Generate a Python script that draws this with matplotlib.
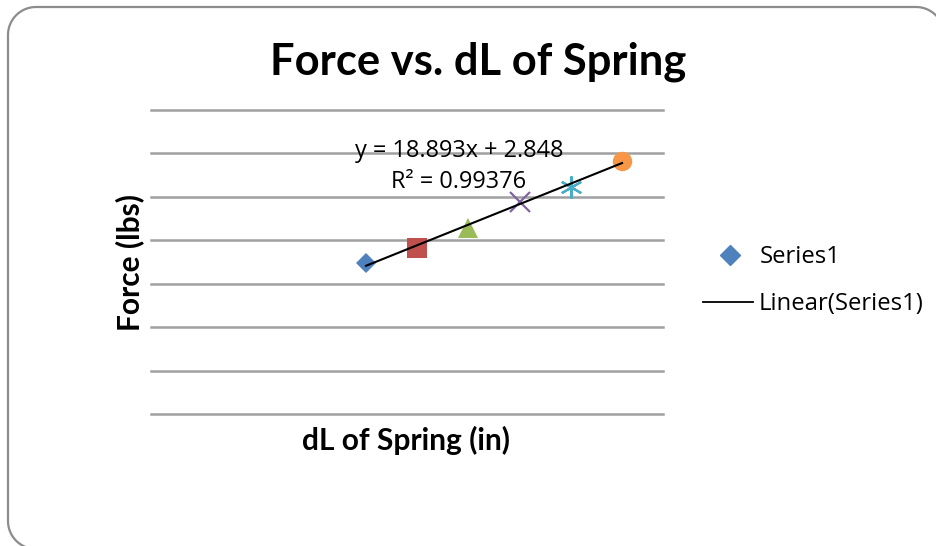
import numpy as np
import matplotlib
matplotlib.use("Agg")
import matplotlib.pyplot as plt
from matplotlib.lines import Line2D
from matplotlib.transforms import IdentityTransform

# Spring measurements
dl_in = [0.21, 0.26, 0.31, 0.36, 0.41, 0.46]
force_lbs = [6.93, 7.63, 8.55, 9.76, 10.45, 11.63]

# Linear trendline coefficients and fit quality
slope = 18.893
intercept = 2.848
r_squared = 0.99376

title = "Force vs. dL of Spring"
x_label = "dL of Spring (in)"
y_label = "Force (lbs)"
series_name = "Series1"
trend_name = f"Linear({series_name})"

# Per-point styling (vary colours by point)
point_colors = ["#4F81BD", "#C0504D", "#9BBB59", "#8064A2", "#4BACC6", "#F79646"]
point_markers = ["D", "s", "^", "x", (6, 2, 0), "o"]
point_sizes = [10, 14, 14, 14, 16, 14]

plt.rcParams["font.family"] = ["Lato", "DejaVu Sans"]
body_font = ["Open Sans", "DejaVu Sans"]

W, H = 937, 546
fig = plt.figure(figsize=(W / 100, H / 100), dpi=100)
fig.patch.set_facecolor("white")


def px(x, y):
    """Pixel position (top-left origin) to figure fraction."""
    return x / W, 1 - y / H


# Rounded chart-area outline (open path; right and bottom edges run off-canvas)
def arc(cx, cy, r, a0, a1, n=24):
    t = np.radians(np.linspace(a0, a1, n))
    return cx + r * np.cos(t), cy + r * np.sin(t)


r = 28
left, top, right, bottom = 8, 7, 944, 549
segs_x, segs_y = [], []
ax_, ay_ = arc(left + r, bottom - r, r, 90, 180)        # bottom-left corner
segs_x += list(ax_); segs_y += list(ay_)
ax_, ay_ = arc(left + r, top + r, r, 180, 270)          # top-left corner
segs_x += list(ax_); segs_y += list(ay_)
ax_, ay_ = arc(right - r, top + r, r, 270, 360)         # top-right corner
segs_x += list(ax_); segs_y += list(ay_)
segs_x += [right]; segs_y += [H + 20]
outline = Line2D(np.array(segs_x), H - np.array(segs_y), color="#8c8c8c",
                 linewidth=1.6, transform=IdentityTransform(), clip_on=False)
fig.add_artist(outline)

ax = fig.add_axes([151 / W, (H - 414) / H, 512 / W, 304.5 / H])
ax.set_xlim(0, 0.5)
ax.set_ylim(0, 14)
ax.set_yticks(np.arange(0, 15, 2))
ax.set_xticks([])
ax.yaxis.grid(True, color="#a0a0a0", linewidth=1.8)
for gl in ax.get_ygridlines():
    gl.set_clip_on(False)
ax.set_axisbelow(True)
ax.tick_params(axis="y", length=0, labelleft=False)
for s in ax.spines.values():
    s.set_visible(False)

for x, y, c, m, ms in zip(dl_in, force_lbs, point_colors, point_markers, point_sizes):
    lw = 1.6 if m in ("x", (6, 2, 0)) else 0
    ax.plot(x, y, linestyle="none", marker=m, markersize=ms, color=c,
            markeredgecolor=c, markeredgewidth=lw, zorder=3)

xs = np.array([min(dl_in), max(dl_in)])
ax.plot(xs, slope * xs + intercept, color="black", linewidth=1.5, zorder=4)

ax.text(0.3008, 11.38, f"y = {slope}x + {intercept}\nR² = {r_squared}",
        ha="center", va="center", fontsize=16.9, linespacing=1.35,
        family=body_font)

fig.text(*px(478.5, 62), title, ha="center", va="center",
         fontsize=31.3, fontweight="bold")
fig.text(*px(406, 440), x_label, ha="center", va="center",
         fontsize=21.5, fontweight="bold")
fig.text(*px(130, 262), y_label, ha="center", va="center",
         fontsize=21.5, fontweight="bold", rotation=90)

# Legend entries
mx, my = px(730, 255)
fig.add_artist(Line2D([mx], [my], linestyle="none", marker="D", markersize=10,
                      color=point_colors[0], transform=fig.transFigure))
fig.text(*px(760, 257), series_name, ha="left", va="center",
         fontsize=17.2, family=body_font)
lx0, ly = px(703, 302)
lx1, _ = px(753, 302)
fig.add_artist(Line2D([lx0, lx1], [ly, ly], color="black", linewidth=1.3,
                      transform=fig.transFigure))
fig.text(*px(759, 304), trend_name, ha="left", va="center",
         fontsize=17.2, family=body_font)

fig.savefig("out.png", dpi=100, facecolor="white")
